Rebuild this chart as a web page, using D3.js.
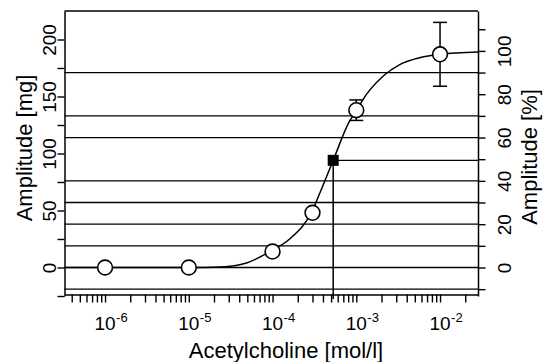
<!DOCTYPE html>
<html>
<head>
<meta charset="utf-8">
<script src="https://cdn.jsdelivr.net/npm/d3@7"></script>
<style>
  html, body { margin: 0; padding: 0; background: #fff; }
  svg { display: block; font-family: "Liberation Sans", Arial, Helvetica, sans-serif; }
</style>
</head>
<body>
<svg id="chart" width="543" height="362"></svg>
<script>
// Measured contraction amplitude at each acetylcholine concentration (mean ± error)
const concentrations = [1e-6, 1e-5, 1e-4, 3e-4, 1e-3, 1e-2];
const amplitudes = [0, 0, 14, 48, 138, 187];
const errors = [0, 0, 0, 0, 9, 28];

// Half-maximal response (EC50)
const ec50Conc = 5.3e-4;
const ec50Amp = 94;

// Fitted concentration-response curve
const fitConc = [3.3e-7, 1e-5, 2.4e-5, 4.9e-5, 9.3e-5, 1.6e-4, 2.9e-4, 4.0e-4, 5.3e-4,
                 8.4e-4, 1.02e-3, 1.17e-3, 2.1e-3, 3.3e-3, 5.7e-3, 1e-2, 2.84e-2];
const fitAmp = [0, 0, 0.5, 4, 14, 25, 48, 72, 94,
                129, 138, 146, 168, 178, 184, 187, 189];

// Axis ticks and labels
const xMajorTicks = [1e-6, 1e-5, 1e-4, 1e-3, 1e-2];
const xTickExponents = ["-6", "-5", "-4", "-3", "-2"];
const mgTicks = [-25, 0, 25, 50, 75, 100, 125, 150, 175, 200];
const mgLabels = [0, 50, 100, 150, 200];
const pctTicks = [-10, 0, 10, 20, 30, 40, 50, 60, 70, 80, 90, 100, 110];
const pctLabels = [0, 20, 40, 60, 80, 100];
const pctGridLines = [-10, 0, 10, 20, 30, 40, 60, 70, 90];
const mgPerPercent = 1.9;   // 100 % corresponds to 190 mg

const svg = d3.select("#chart");
const plotLeft = 64.5, plotRight = 478, plotTop = 11, plotBottom = 296;

const x = d3.scaleLog().domain([3.28e-7, 2.84e-2]).range([plotLeft, plotRight]);
const y = d3.scaleLinear().domain([-25, 225]).range([plotBottom, plotTop]);
const yPct = d3.scaleLinear()
  .domain([-25 / mgPerPercent, 225 / mgPerPercent])
  .range([plotBottom, plotTop]);

// Horizontal reference lines
svg.append("g")
  .selectAll("line")
  .data(pctGridLines)
  .join("line")
  .attr("x1", plotLeft).attr("x2", plotRight)
  .attr("y1", d => yPct(d)).attr("y2", d => yPct(d))
  .attr("stroke", "#000").attr("stroke-width", 1.3);

// Fitted curve
const line = d3.line()
  .x((d, i) => x(fitConc[i]))
  .y(d => y(d))
  .curve(d3.curveMonotoneX);
svg.append("path")
  .attr("d", line(fitAmp))
  .attr("fill", "none")
  .attr("stroke", "#000")
  .attr("stroke-width", 1.5);

// EC50 guide lines
svg.append("line")
  .attr("x1", x(ec50Conc)).attr("x2", x(ec50Conc))
  .attr("y1", y(ec50Amp)).attr("y2", plotBottom + 3)
  .attr("stroke", "#000").attr("stroke-width", 1.5);
svg.append("line")
  .attr("x1", x(ec50Conc)).attr("x2", plotRight)
  .attr("y1", y(ec50Amp)).attr("y2", y(ec50Amp))
  .attr("stroke", "#000").attr("stroke-width", 1.3);

// Error bars
const capHalf = 7;
const bars = svg.append("g")
  .selectAll("g")
  .data(concentrations.map((c, i) => ({ c, a: amplitudes[i], e: errors[i] })).filter(d => d.e > 0))
  .join("g")
  .attr("stroke", "#000").attr("stroke-width", 1.5);
bars.append("line")
  .attr("x1", d => x(d.c)).attr("x2", d => x(d.c))
  .attr("y1", d => y(d.a + d.e)).attr("y2", d => y(d.a - d.e));
bars.append("line")
  .attr("x1", d => x(d.c) - capHalf).attr("x2", d => x(d.c) + capHalf)
  .attr("y1", d => y(d.a + d.e)).attr("y2", d => y(d.a + d.e));
bars.append("line")
  .attr("x1", d => x(d.c) - capHalf).attr("x2", d => x(d.c) + capHalf)
  .attr("y1", d => y(d.a - d.e)).attr("y2", d => y(d.a - d.e));

// Data points
svg.append("g")
  .selectAll("circle")
  .data(concentrations)
  .join("circle")
  .attr("cx", d => x(d))
  .attr("cy", (d, i) => y(amplitudes[i]))
  .attr("r", 7.4)
  .attr("fill", "#fff")
  .attr("stroke", "#000")
  .attr("stroke-width", 1.6);

// EC50 marker
const sq = 11;
svg.append("rect")
  .attr("x", x(ec50Conc) - sq / 2).attr("y", y(ec50Amp) - sq / 2)
  .attr("width", sq).attr("height", sq)
  .attr("fill", "#000");

// Top frame
svg.append("line")
  .attr("x1", plotLeft).attr("x2", plotRight)
  .attr("y1", plotTop).attr("y2", plotTop)
  .attr("stroke", "#000").attr("stroke-width", 1.5);

function styleAxis(g) {
  g.selectAll("path.domain").attr("stroke", "#000").attr("stroke-width", 1.5);
  g.selectAll(".tick line").attr("stroke", "#000").attr("stroke-width", 1.4);
}

// Left axis (mg)
const gLeft = svg.append("g")
  .attr("transform", `translate(${plotLeft},0)`)
  .call(d3.axisLeft(y).tickValues(mgTicks).tickSize(7).tickSizeOuter(0)
    .tickFormat(d => mgLabels.includes(d) ? d : ""));
styleAxis(gLeft);
gLeft.selectAll(".tick text")
  .attr("x", null).attr("dy", null)
  .attr("transform", "translate(-9,0) rotate(-90)")
  .attr("text-anchor", "middle")
  .attr("fill", "#000")
  .style("font-size", "19px");

// Right axis (%)
const gRight = svg.append("g")
  .attr("transform", `translate(${plotRight},0)`)
  .call(d3.axisRight(yPct).tickValues(pctTicks).tickSize(7.5).tickSizeOuter(0)
    .tickFormat(d => pctLabels.includes(d) ? d : ""));
styleAxis(gRight);
gRight.selectAll(".tick text")
  .attr("x", null).attr("dy", null)
  .attr("transform", "translate(33,0) rotate(-90)")
  .attr("text-anchor", "middle")
  .attr("fill", "#000")
  .style("font-size", "19px");

// Bottom axis (log concentration)
const gBottom = svg.append("g")
  .attr("transform", `translate(0,${plotBottom - 1.5})`)
  .call(d3.axisBottom(x).tickValues(x.ticks()).tickSize(8).tickSizeOuter(0).tickFormat(""));
styleAxis(gBottom);

const xLabels = svg.append("g").attr("fill", "#000");
xMajorTicks.forEach((t, i) => {
  const g = xLabels.append("g").attr("transform", `translate(${x(t)},0)`);
  const base = g.append("text")
    .attr("x", 0).attr("y", 330)
    .attr("text-anchor", "middle")
    .style("font-size", "19px")
    .text("10");
  const w = base.node().getComputedTextLength();
  g.append("text")
    .attr("x", w / 2 + 0.5).attr("y", 321.5)
    .attr("text-anchor", "start")
    .style("font-size", "13px")
    .text(xTickExponents[i]);
});

// Axis titles
svg.append("text")
  .attr("transform", "translate(31.5,148) rotate(-90)")
  .attr("text-anchor", "middle")
  .style("font-size", "22px")
  .text("Amplitude [mg]");
svg.append("text")
  .attr("transform", "translate(537,157) rotate(-90)")
  .attr("text-anchor", "middle")
  .style("font-size", "22px")
  .text("Amplitude [%]");
svg.append("text")
  .attr("x", 286).attr("y", 358)
  .attr("text-anchor", "middle")
  .style("font-size", "22px")
  .text("Acetylcholine [mol/l]");
</script>
</body>
</html>
